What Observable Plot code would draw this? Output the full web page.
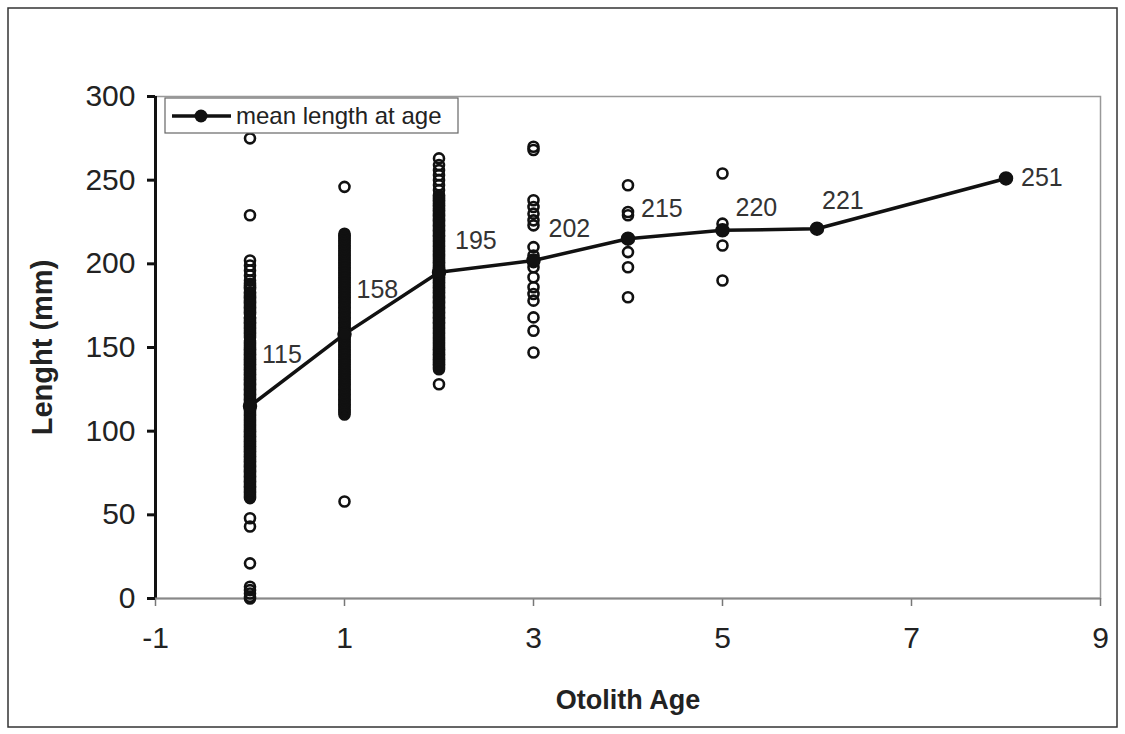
<!DOCTYPE html>
<html>
<head>
<meta charset="utf-8">
<script src="https://cdn.jsdelivr.net/npm/d3@7"></script>
<script src="https://cdn.jsdelivr.net/npm/@observablehq/plot@0.6"></script>
<style>
  html, body { margin: 0; padding: 0; background: #fff; }
  #chart { position: relative; width: 1125px; height: 734px; }
</style>
</head>
<body>
<div id="chart"></div>
<script>
// ---- data ----
const meanAges = [0, 1, 2, 3, 4, 5, 6, 8];
const meanLengths = [115, 158, 195, 202, 215, 220, 221, 251];

const age0 = [275, 229, 202, 199, 196, 193, 190, 188, 187, 186, 185, 183, 182, 181, 180, 179, 178, 177, 176, 175, 174, 173, 172, 171, 170, 168, 167, 166, 165, 164, 163, 162, 161, 160, 159, 158, 157, 156, 154, 153, 152, 151, 150, 149, 148, 147, 146, 145, 144, 143, 142, 141, 140, 139, 138, 137, 136, 135, 134, 133, 132, 131, 130, 129, 128, 127, 126, 125, 124, 123, 122, 121, 120, 119, 118, 117, 116, 115, 114, 113, 112, 111, 110, 109, 108, 107, 106, 105, 104, 103, 102, 101, 100, 99, 98, 97, 96, 95, 94, 93, 92, 91, 90, 89, 88, 87, 86, 85, 84, 83, 82, 81, 80, 79, 78, 77, 76, 75, 74, 73, 72, 71, 70, 69, 68, 67, 66, 65, 64, 63, 62, 61, 60, 48, 43, 21, 7, 5, 3, 1, 0];
const age1 = [246, 218, 217, 216, 215, 214, 213, 212, 211, 210, 209, 208, 207, 206, 205, 204, 203, 202, 201, 200, 199, 198, 197, 196, 195, 194, 193, 192, 191, 190, 189, 188, 187, 186, 185, 184, 183, 182, 181, 180, 179, 178, 177, 176, 175, 174, 173, 172, 171, 170, 169, 168, 167, 166, 165, 164, 163, 162, 161, 160, 159, 158, 157, 156, 155, 154, 153, 152, 151, 150, 149, 148, 147, 146, 145, 144, 143, 142, 141, 140, 139, 138, 137, 136, 135, 134, 133, 132, 131, 130, 129, 128, 127, 126, 125, 124, 123, 122, 121, 120, 119, 118, 117, 116, 115, 114, 113, 112, 111, 110, 58];
const age2 = [263, 259, 256, 253, 250, 247, 244, 241, 240, 239, 238, 237, 236, 235, 234, 233, 232, 231, 230, 229, 228, 227, 226, 225, 224, 223, 222, 221, 220, 219, 218, 217, 216, 215, 214, 213, 212, 211, 210, 209, 208, 207, 206, 205, 204, 203, 202, 201, 200, 199, 198, 197, 196, 195, 194, 193, 192, 191, 190, 189, 188, 187, 186, 185, 184, 183, 182, 181, 180, 179, 178, 177, 176, 175, 174, 173, 172, 171, 170, 169, 168, 167, 166, 165, 164, 163, 162, 161, 160, 159, 158, 157, 156, 155, 154, 153, 152, 151, 150, 149, 148, 147, 146, 145, 144, 143, 142, 141, 140, 139, 138, 137, 128];
const age3 = [270, 268, 238, 234, 230, 226, 223, 210, 205, 201, 198, 192, 186, 182, 178, 168, 160, 147];
const age4 = [247, 231, 229, 207, 198, 180];
const age5 = [254, 224, 220, 211, 190];

const xTicks = [-1, 1, 3, 5, 7, 9];
const yTicks = [0, 50, 100, 150, 200, 250, 300];
const legendLabel = "mean length at age";
const xLabel = "Otolith Age";
const yLabel = "Lenght (mm)";

// label placement (layout, not data)
const labelDx = [12, 12, 16, 15, 13, 13, 5, 15];
const labelDy = [-51, -44, -31, -31, -30, -22, -28, 0];

// ---- build tables ----
const raw = [];
[[0, age0], [1, age1], [2, age2], [3, age3], [4, age4], [5, age5]].forEach(([a, vals]) => {
  vals.forEach(v => raw.push({age: a, length: v}));
});
const means = meanAges.map((a, i) => ({age: a, length: meanLengths[i], dx: labelDx[i], dy: labelDy[i]}));

const W = 1125, H = 734;
const FONT = "'Liberation Sans', Arial, sans-serif";

const plot = Plot.plot({
  width: W,
  height: H,
  marginLeft: 155,
  marginRight: 25,
  marginTop: 96,
  marginBottom: 136,
  style: {fontFamily: FONT, fontSize: "28px", color: "#222", background: "#fff"},
  x: {domain: [-1, 9]},
  y: {domain: [0, 300]},
  marks: [
    Plot.frame({stroke: "#999", strokeWidth: 1.5}),
    Plot.axisX({ticks: xTicks, tickFormat: d => String(d), tickSize: 8, tickPadding: 20, stroke: "#777", strokeWidth: 1.5, label: null, fontSize: 30, fill: "#222"}),
    Plot.axisY({ticks: yTicks, tickFormat: d => String(d), tickSize: 8, tickPadding: 12, stroke: "#111", strokeWidth: 3, label: null, fontSize: 30, fill: "#222"}),
    Plot.ruleX([-1], {stroke: "#111", strokeWidth: 3}),
    Plot.ruleY([0], {stroke: "#888", strokeWidth: 2}),
    Plot.dot(raw, {x: "age", y: "length", r: 5, stroke: "#111", strokeWidth: 2.6, fill: "none"}),
    Plot.line(means, {x: "age", y: "length", stroke: "#111", strokeWidth: 3.5}),
    Plot.dot(means, {x: "age", y: "length", r: 6.5, fill: "#111", stroke: "#111"}),
    ...means.map(d => Plot.text([d], {x: "age", y: "length", text: d => String(d.length), dx: d.dx, dy: d.dy, textAnchor: "start", fontSize: 25, fill: "#333"})),
    Plot.text([xLabel], {frameAnchor: "bottom", dy: 102, textAnchor: "middle", lineAnchor: "middle", fontWeight: "bold", fontSize: 27, fill: "#222"}),
    Plot.text([yLabel], {frameAnchor: "left", dx: -113, rotate: -90, textAnchor: "middle", lineAnchor: "middle", fontWeight: "bold", fontSize: 29, fill: "#222"})
  ]
});

document.getElementById("chart").appendChild(plot);

// outer border and legend
const svg = d3.select(plot);
svg.append("rect").attr("x", 8).attr("y", 8).attr("width", 1109).attr("height", 719)
  .attr("fill", "none").attr("stroke", "#333").attr("stroke-width", 1.5);

const lg = svg.append("g");
lg.append("rect").attr("x", 165).attr("y", 98).attr("width", 293).attr("height", 35)
  .attr("fill", "#fff").attr("stroke", "#666").attr("stroke-width", 1.2);
lg.append("line").attr("x1", 172).attr("x2", 231).attr("y1", 116).attr("y2", 116)
  .attr("stroke", "#111").attr("stroke-width", 3.5);
lg.append("circle").attr("cx", 201).attr("cy", 116).attr("r", 6.5).attr("fill", "#111");
lg.append("text").attr("x", 236).attr("y", 124).text(legendLabel)
  .attr("text-anchor", "start")
  .attr("font-family", FONT).attr("font-size", 24).attr("fill", "#222");
</script>
</body>
</html>
